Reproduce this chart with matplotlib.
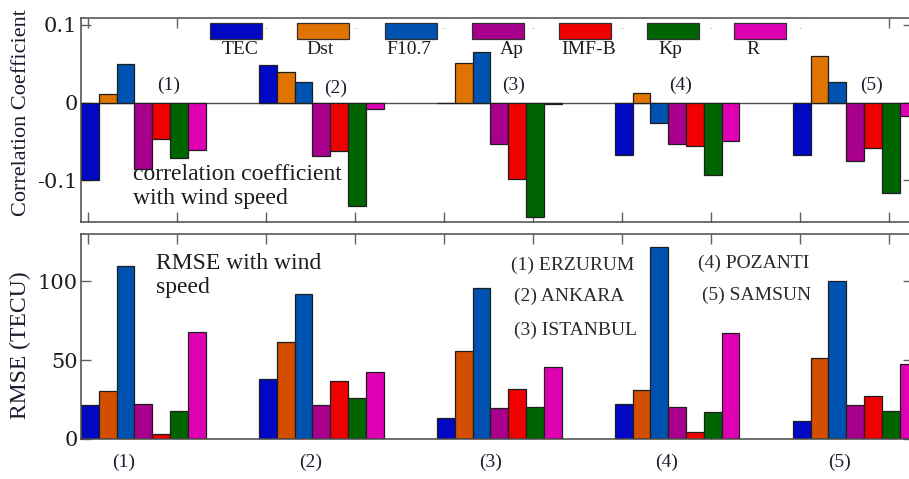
import matplotlib
matplotlib.use("Agg")
import matplotlib.pyplot as plt
from matplotlib.patches import Rectangle
import numpy as np

# ---------------- data ----------------
params = ["TEC", "Dst", "F10.7", "Ap", "IMF-B", "Kp", "R"]
stations = ["(1)", "(2)", "(3)", "(4)", "(5)"]
station_names = ["(1) ERZURUM", "(2) ANKARA", "(3) ISTANBUL", "(4) POZANTI", "(5) SAMSUN"]

# correlation coefficient with wind speed, one list per parameter (stations 1..5)
corr_tec = [-0.100, 0.048, -0.001, -0.068, -0.068]
corr_dst = [0.011, 0.040, 0.051, 0.012, 0.060]
corr_f107 = [0.050, 0.027, 0.065, -0.027, 0.026]
corr_ap = [-0.086, -0.069, -0.054, -0.054, -0.075]
corr_imfb = [-0.047, -0.062, -0.099, -0.056, -0.059]
corr_kp = [-0.071, -0.133, -0.148, -0.093, -0.117]
corr_r = [-0.061, -0.008, -0.002, -0.050, -0.017]

# RMSE (TECU) with wind speed
rmse_tec = [21.5, 38.2, 13.5, 22.4, 11.4]
rmse_dst = [30.4, 61.2, 55.9, 31.2, 51.5]
rmse_f107 = [109.7, 92.2, 96.0, 121.5, 100.0]
rmse_ap = [22.4, 21.5, 19.8, 20.5, 21.7]
rmse_imfb = [3.4, 36.9, 31.6, 4.2, 27.2]
rmse_kp = [17.7, 25.7, 20.5, 17.3, 17.9]
rmse_r = [67.7, 42.2, 45.4, 67.3, 47.5]

corr = [corr_tec, corr_dst, corr_f107, corr_ap, corr_imfb, corr_kp, corr_r]
rmse = [rmse_tec, rmse_dst, rmse_f107, rmse_ap, rmse_imfb, rmse_kp, rmse_r]

colors_top = ["#0008C4", "#E07400", "#0052B0", "#A8008C", "#F00000", "#006400", "#E000B4"]
colors_bot = ["#0008C4", "#D44E00", "#0052B0", "#A8008C", "#F00000", "#006400", "#E000B4"]

corr_yticks = [-0.1, 0, 0.1]
corr_yticklabels = ["-0.1", "0", "0.1"]
rmse_yticks = [0, 50, 100]

# ---------------- style ----------------
plt.rcParams["font.family"] = ["Liberation Serif", "DejaVu Serif"]
TXT = "#1c1c1c"
SPINE = "#484848"

W, H = 909, 479
fig = plt.figure(figsize=(W / 100, H / 100), dpi=100)

def fx(px):
    return px / W

def fy(py):
    return 1 - py / H

left_px, right_px = 81, 913
ax1 = fig.add_axes([fx(left_px), fy(222), fx(right_px - left_px), (222 - 18) / H])
ax2 = fig.add_axes([fx(left_px), fy(439), fx(right_px - left_px), (439 - 234) / H])

ngroup = len(stations)
npar = len(params)
group_step = 10
offset = -0.4
xmin, xmax = -0.4, 46.35

for ax, data, cols in ((ax1, corr, colors_top), (ax2, rmse, colors_bot)):
    for j in range(npar):
        xs = [group_step * g + j + offset for g in range(ngroup)]
        ax.bar(xs, data[j], width=1.0, align="edge", color=cols[j],
               edgecolor="#1e1e1e", linewidth=0.9, zorder=2)
    ax.set_xlim(xmin, xmax)
    ax.set_axisbelow(True)
    ax.set_xticks(np.arange(0, 50, 5))
    ax.set_xticklabels([])
    ax.tick_params(axis="both", direction="in", length=7, width=1.0, color="#606060",
                   top=True, right=True, labelcolor=TXT)
    ax.tick_params(axis="y", pad=2.5, labelsize=15)
    for lbl in ax.get_yticklabels():
        lbl.set_fontfamily("DejaVu Serif")
    for s in ax.spines.values():
        s.set_color(SPINE)
        s.set_linewidth(1.1)

# top panel
ax1.set_ylim(-0.154, 0.109)
ax1.set_yticks(corr_yticks)
ax1.set_yticklabels(corr_yticklabels, fontfamily="DejaVu Serif")
ax1.axhline(0, color="#505050", linewidth=1.0, zorder=1)
ax1.set_ylabel("Correlation Coefficient", fontsize=16, color="#1c1c30")
ax1.yaxis.set_label_coords((31 - left_px) / (right_px - left_px), 0.535)

# white legend frame covering the top ticks
ax1.add_patch(Rectangle((fx(205), fy(28)), fx(817 - 205), 9 / H, transform=fig.transFigure,
                        facecolor="white", edgecolor="none", zorder=2.6))

# manual legend
leg_x0 = 210
leg_dx = 87.3
leg_lbl_shift = [4, -3, -2, 14, 3, -2, -7]
for j, name in enumerate(params):
    x0 = leg_x0 + j * leg_dx
    fig.patches.append(Rectangle((fx(x0), fy(39)), fx(52), 16 / H, transform=fig.transFigure,
                                 facecolor=colors_top[j], edgecolor="#303030", linewidth=0.9))
    fig.text(fx(x0 + 26 + leg_lbl_shift[j]), fy(50), name, ha="center", va="center",
             fontsize=14, color=TXT)

# station numbers in top panel
top_lbl_x = [4.5, 13.9, 23.9, 33.3, 44.0]
top_lbl_y = [0.022, 0.018, 0.022, 0.022, 0.022]
for s, x, y in zip(stations, top_lbl_x, top_lbl_y):
    ax1.text(x, y, s, ha="center", va="center", fontsize=14, color="#1c1c30")

ax1.text((133 - left_px) / (right_px - left_px), 1 - (164 - 18) / 204,
         "correlation coefficient\nwith wind speed", transform=ax1.transAxes,
         ha="left", va="top", fontsize=17, color=TXT, linespacing=1.2)

# bottom panel
ax2.set_ylim(0, 130)
ax2.set_yticks(rmse_yticks)
ax2.set_yticklabels([str(v) for v in rmse_yticks], fontfamily="DejaVu Serif")
ax2.set_ylabel("RMSE (TECU)", fontsize=17, color="#1c1c30")
ax2.yaxis.set_label_coords((31 - left_px) / (right_px - left_px), 0.46)

bot_lbl_x = [2.0, 12.5, 22.6, 32.5, 42.2]
for s, x in zip(stations, bot_lbl_x):
    ax2.text(x, -0.115, s, transform=ax2.get_xaxis_transform(), ha="center", va="center",
             fontsize=14, color="#1c1c30")

ax2.text((156 - left_px) / (right_px - left_px), 1 - (253 - 234) / 205,
         "RMSE with wind\nspeed", transform=ax2.transAxes, ha="left", va="top",
         fontsize=17, color=TXT, linespacing=1.2)

name_pos = [(511, 265), (514, 296), (514, 330), (698, 263), (702, 295)]
for name, (px, py) in zip(station_names, name_pos):
    fig.text(fx(px), fy(py), name, ha="left", va="center", fontsize=14, color="#2a2a2a")

fig.savefig("out.png", dpi=100)
